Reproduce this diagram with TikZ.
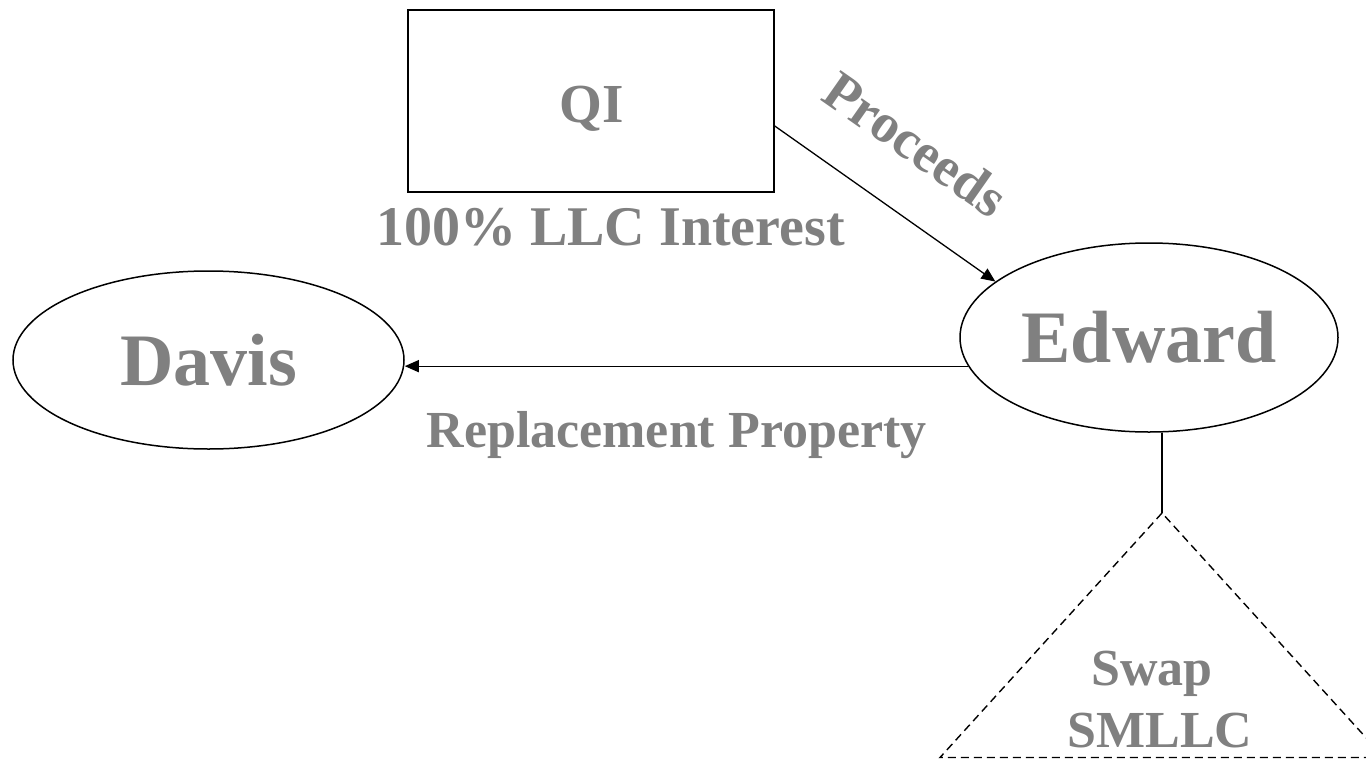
\documentclass[tikz,border=0pt]{standalone}
\usepackage{fontspec}
\setmainfont{Liberation Serif}
\usetikzlibrary{arrows.meta,shapes.geometric}
\definecolor{txtgray}{RGB}{128,128,128}
\newcommand\myfs[1]{\fontsize{#1bp}{#1bp}\selectfont}
\begin{document}
\begin{tikzpicture}[x=1bp,y=-1bp,
  lbl/.style={text=txtgray,font=\bfseries,inner sep=0pt},
  box/.style={draw,line width=1.5bp,rectangle,minimum width=366bp,minimum height=182bp,inner sep=0pt},
  ell/.style={draw,line width=1.5bp,ellipse,inner sep=0pt,text=txtgray,font=\bfseries},
  arr/.style={line width=1.3bp,-{Triangle[length=14bp,width=12bp]}},
  dashline/.style={line width=1.4bp,dash pattern=on 8bp off 5bp}]
\useasboundingbox (0,0) rectangle (1366,759);
\node[box] (QI) at (591,101) {};
\node[lbl,anchor=base] (qit) at (592,122) {\myfs{55}QI};
\node[lbl,anchor=base] (llc) at (610.5,245) {\myfs{56}100\% LLC Interest};
\node[ell,minimum width=378bp,minimum height=189bp] (Edward) at (1149,337.5) {\myfs{74}Edward};
\node[ell,minimum width=391bp,minimum height=178bp] (Davis) at (208.5,360) {\myfs{74}Davis};
\node[lbl,anchor=base] (rp) at (676.5,447) {\myfs{52}Replacement Property};
\node[lbl,rotate=-35] (proc) at (916,144) {\myfs{55}Proceeds};
\node[lbl,anchor=base] (swap) at (1152,685) {\myfs{52}Swap};
\node[lbl,anchor=base] (smllc) at (1160,747) {\myfs{52}SMLLC};
\draw[arr] ([yshift=-25bp]QI.east) -- (Edward.160);
\draw[arr] (Edward.189) -- (Edward.189 -| Davis.east);
\coordinate (apex) at (1162,513);
\draw[line width=1.5bp] (apex |- Edward.south) -- (apex);
\begin{scope}
\clip (0,0) rectangle (1366,759);
\draw[dashline] (apex) -- (940,757.5) -- (1384,757.5) -- cycle;
\end{scope}
\end{tikzpicture}
\end{document}
